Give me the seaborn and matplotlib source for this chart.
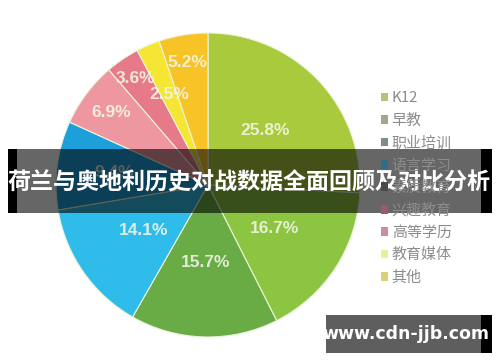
import matplotlib
matplotlib.use("Agg")
import matplotlib.pyplot as plt
import seaborn as sns
import numpy as np
from matplotlib.patches import Rectangle, Patch

# ---- data ----
categories = ["K12", "早教", "职业培训", "语言学习", "素质教育", "兴趣教育", "高等学历", "教育媒体", "其他"]
shares = [25.8, 16.7, 15.7, 14.1, 9.4, 6.9, 3.6, 2.5, 5.2]
title_text = "荷兰与奥地利历史对战数据全面回顾及对比分析"
watermark_text = "www.cdn-jjb.com"

# ---- style ----
slice_colors = ["#A9CA3C", "#8CC542", "#69AC46", "#30BCEA", "#1C9FDA",
                "#EE97A1", "#E67A88", "#F5E634", "#F7C326"]
legend_colors = ["#B3C47A", "#A2A792", "#7C9080", "#2F6E86", "#4A4A4A",
                 "#9A5A68", "#C98F9C", "#E9EE9A", "#D9D277"]
label_radius = [0.52, 0.52, 0.51, 0.52, 0.62, 0.80, 0.85, 0.65, 0.82]

sns.set_theme(style="white")
plt.rcParams['font.family'] = ['Noto Sans CJK SC', 'DejaVu Sans']

fig = plt.figure(figsize=(5.0, 3.62), dpi=100)
fig.patch.set_facecolor("white")

W, H = 500, 362
cx, cy, r = 208, 185, 152
ax = fig.add_axes([(cx - r) / W, (H - cy - r) / H, 2 * r / W, 2 * r / H])

wedges, _ = ax.pie(shares, colors=sns.color_palette(slice_colors), startangle=90,
                   counterclock=False, radius=1.0,
                   wedgeprops=dict(edgecolor="#EAF5D8", linewidth=0.8))
ax.set_xlim(-1, 1)
ax.set_ylim(-1, 1)
ax.set_aspect("equal")
ax.axis("off")

for w, v, rr in zip(wedges, shares, label_radius):
    mid = np.deg2rad((w.theta1 + w.theta2) / 2)
    ax.text(rr * np.cos(mid), rr * np.sin(mid), f"{v:.1f}%",
            ha="center", va="center", fontsize=12.5, color="#F4F6E6",
            family=["Liberation Sans", "DejaVu Sans"], fontweight="bold", alpha=0.88)

handles = [Patch(facecolor=c, edgecolor="none") for c in legend_colors]
fig.legend(handles, categories, loc="upper left",
           bbox_to_anchor=(373 / W, 1 - 84 / H), frameon=False,
           fontsize=10.8, handlelength=0.5, handleheight=0.5,
           handletextpad=0.25, labelspacing=0.55, borderpad=0,
           labelcolor="#8C8C8C")

# ---- banner overlay ----
ov = fig.add_axes([0, 0, 1, 1])
ov.set_xlim(0, W)
ov.set_ylim(H, 0)
ov.axis("off")
ov.patch.set_alpha(0)
ov.add_patch(Rectangle((17, 149), 464, 64, facecolor="black", alpha=0.6, lw=0))
ov.add_patch(Rectangle((8, 149), 9, 64, facecolor="black", lw=0))
ov.add_patch(Rectangle((481, 149), 11, 64, facecolor="black", lw=0))
ov.text(249, 183, title_text, ha="center", va="center", color="white",
        fontsize=16.6, fontweight="bold")

ov.add_patch(Rectangle((326, 315), 155, 38, facecolor="#5E5E5E", lw=0))
ov.add_patch(Rectangle((481, 315), 11, 38, facecolor="black", lw=0))
ov.text(406, 334, watermark_text, ha="center", va="center", color="white",
        fontsize=12.5, fontweight="bold", family=["DejaVu Sans"])

fig.savefig("out.png", dpi=100)
